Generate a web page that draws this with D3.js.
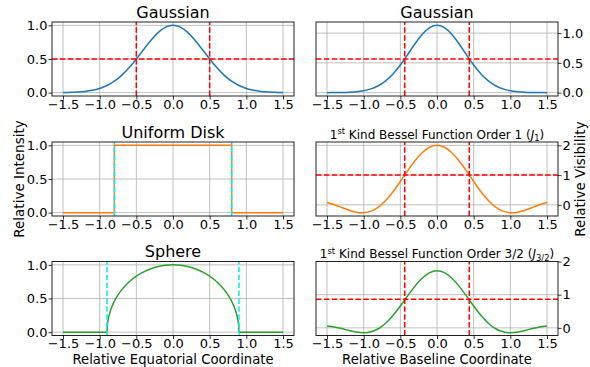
<!DOCTYPE html>
<html>
<head>
<meta charset="utf-8">
<script src="https://cdn.jsdelivr.net/npm/d3@7"></script>
<style>
body { margin: 0; background: #fff; }
svg { font-family: "DejaVu Sans", sans-serif; }
</style>
</head>
<body>
<div id="chart"></div>
<script>
// sample grid shared by the smooth curves
var xGrid = [-1.5, -1.4, -1.3, -1.2, -1.1, -1.0, -0.9, -0.8, -0.7, -0.6, -0.5, -0.4, -0.3, -0.2, -0.1, 0,
             0.1, 0.2, 0.3, 0.4, 0.5, 0.6, 0.7, 0.8, 0.9, 1.0, 1.1, 1.2, 1.3, 1.4, 1.5];

var gaussIntensity = [0.0020, 0.0044, 0.0092, 0.0185, 0.0349, 0.0625, 0.1058, 0.1696, 0.2570, 0.3686, 0.5000,
                      0.6417, 0.7792, 0.8950, 0.9727, 1.0000, 0.9727, 0.8950, 0.7792, 0.6417, 0.5000, 0.3686,
                      0.2570, 0.1696, 0.1058, 0.0625, 0.0349, 0.0185, 0.0092, 0.0044, 0.0020];

var gaussVisibility = [0.0004, 0.0011, 0.0028, 0.0067, 0.0152, 0.0321, 0.0632, 0.1157, 0.1974, 0.3137, 0.4641,
                       0.6393, 0.8203, 0.9800, 1.0905, 1.1300, 1.0905, 0.9800, 0.8203, 0.6393, 0.4641, 0.3137,
                       0.1974, 0.1157, 0.0632, 0.0321, 0.0152, 0.0067, 0.0028, 0.0011, 0.0004];

var besselJ1 = [0.077, 0.004, -0.088, -0.179, -0.246, -0.263, -0.210, -0.074, 0.147, 0.442, 0.786,
                1.146, 1.483, 1.759, 1.937, 2.000, 1.937, 1.759, 1.483, 1.146, 0.786, 0.442,
                0.147, -0.074, -0.210, -0.263, -0.246, -0.179, -0.088, 0.004, 0.077];

var besselJ32 = [0.055, 0.026, -0.022, -0.078, -0.127, -0.148, -0.120, -0.027, 0.139, 0.372, 0.657,
                 0.964, 1.258, 1.502, 1.664, 1.720, 1.664, 1.502, 1.258, 0.964, 0.657, 0.372,
                 0.139, -0.027, -0.120, -0.148, -0.127, -0.078, -0.022, 0.026, 0.055];

// uniform disk profile (sharp edges at +-0.8)
var diskX = [-1.5, -0.8, -0.8, 0.8, 0.8, 1.5];
var diskY = [0, 0, 1, 1, 0, 0];

// sphere (limb) profile, radius 0.9
var sphereX = [-1.5, -0.9, -0.895, -0.89, -0.88, -0.86, -0.83, -0.8, -0.75, -0.7, -0.6, -0.5, -0.4, -0.3, -0.2, -0.1, 0,
               0.1, 0.2, 0.3, 0.4, 0.5, 0.6, 0.7, 0.75, 0.8, 0.83, 0.86, 0.88, 0.89, 0.895, 0.9, 1.5];
var sphereY = [0, 0, 0.1052, 0.1487, 0.2098, 0.2948, 0.3867, 0.4581, 0.5528, 0.6286, 0.7454, 0.8315, 0.8958, 0.9428, 0.9750, 0.9938, 1,
               0.9938, 0.9750, 0.9428, 0.8958, 0.8315, 0.7454, 0.6286, 0.5528, 0.4581, 0.3867, 0.2948, 0.2098, 0.1487, 0.1052, 0, 0];

var xTicks = [-1.5, -1.0, -0.5, 0, 0.5, 1.0, 1.5];
var unitTicks = [0, 0.5, 1.0];
var intTicks = [0, 1, 2];

// half-maximum markers
var gaussHalfX = [-0.5, 0.5], gaussHalfY = [0.5];
var visHalfX = [-0.44, 0.44];
var gaussVisHalfY = [0.565], j1HalfY = [1.0], j32HalfY = [0.86];
var diskEdges = [-0.8, 0.8], sphereEdges = [-0.9, 0.9];

var width = 590, height = 367;
var colX = [52, 316], panelW = 242, rowY = [22, 142, 261.5], panelH = 74;

var svg = d3.select("#chart").append("svg")
    .attr("width", width)
    .attr("height", height);

function zip(xs, ys) {
  return xs.map(function(d, i) { return [d, ys[i]]; });
}

var panels = [
  {col: 0, row: 0, title: [["Gaussian"]], big: true, yDomain: [-0.05, 1.05], yTicks: unitTicks, fmt: ".1f",
   series: [{pts: zip(xGrid, gaussIntensity), color: "#1f77b4", curve: d3.curveNatural}],
   vlines: gaussHalfX, vcolor: "red", hlines: gaussHalfY},
  {col: 1, row: 0, title: [["Gaussian"]], big: true, yDomain: [-0.056, 1.186], yTicks: unitTicks, fmt: ".1f",
   series: [{pts: zip(xGrid, gaussVisibility), color: "#1f77b4", curve: d3.curveNatural}],
   vlines: visHalfX, vcolor: "red", hlines: gaussVisHalfY},
  {col: 0, row: 1, title: [["Uniform Disk"]], big: true, yDomain: [-0.05, 1.05], yTicks: unitTicks, fmt: ".1f",
   series: [{pts: zip(diskX, diskY), color: "#ff7f0e", curve: d3.curveLinear}],
   vlines: diskEdges, vcolor: "#00f0f0", hlines: []},
  {col: 1, row: 1, title: [["1"], ["st", "sup"], [" Kind Bessel Function Order 1 ("], ["J", "it"], ["1", "sub"], [")", "back"]],
   big: false, yDomain: [-0.375, 2.113], yTicks: intTicks, fmt: "d",
   series: [{pts: zip(xGrid, besselJ1), color: "#ff7f0e", curve: d3.curveNatural}],
   vlines: visHalfX, vcolor: "red", hlines: j1HalfY},
  {col: 0, row: 2, title: [["Sphere"]], big: true, yDomain: [-0.05, 1.05], yTicks: unitTicks, fmt: ".1f",
   series: [{pts: zip(sphereX, sphereY), color: "#2ca02c", curve: d3.curveMonotoneX}],
   vlines: sphereEdges, vcolor: "#00f0f0", hlines: []},
  {col: 1, row: 2, title: [["1"], ["st", "sup"], [" Kind Bessel Function Order 3/2 ("], ["J", "it"], ["3/2", "sub"], [")", "back"]],
   big: false, yDomain: [-0.23, 2.0], yTicks: intTicks, fmt: "d",
   series: [{pts: zip(xGrid, besselJ32), color: "#2ca02c", curve: d3.curveNatural}],
   vlines: visHalfX, vcolor: "red", hlines: j32HalfY}
];

panels.forEach(drawPanel);

function drawPanel(p) {
  var x0 = colX[p.col], y0 = rowY[p.row];
  var x = d3.scaleLinear().domain([-1.65, 1.65]).range([x0, x0 + panelW]);
  var y = d3.scaleLinear().domain(p.yDomain).range([y0 + panelH, y0]);
  var clipId = "clip-" + p.row + "-" + p.col;

  svg.append("clipPath").attr("id", clipId)
    .append("rect").attr("x", x0).attr("y", y0).attr("width", panelW).attr("height", panelH);

  var g = svg.append("g");
  var plot = g.append("g").attr("clip-path", "url(#" + clipId + ")");

  // grid
  plot.selectAll(".gx").data(xTicks).enter().append("line")
      .attr("x1", function(d) { return x(d); }).attr("x2", function(d) { return x(d); })
      .attr("y1", y0).attr("y2", y0 + panelH)
      .attr("stroke", "#b0b0b0").attr("stroke-width", 0.8);
  plot.selectAll(".gy").data(p.yTicks).enter().append("line")
      .attr("y1", function(d) { return y(d); }).attr("y2", function(d) { return y(d); })
      .attr("x1", x0).attr("x2", x0 + panelW)
      .attr("stroke", "#b0b0b0").attr("stroke-width", 0.8);

  // curves
  p.series.forEach(function(s) {
    var line = d3.line()
        .x(function(d) { return x(d[0]); })
        .y(function(d) { return y(d[1]); })
        .curve(s.curve);
    plot.append("path").datum(s.pts)
        .attr("d", line)
        .attr("fill", "none")
        .attr("stroke", s.color)
        .attr("stroke-width", 1.5);
  });

  // dashed markers
  plot.selectAll(".vl").data(p.vlines).enter().append("line")
      .attr("x1", function(d) { return x(d); }).attr("x2", function(d) { return x(d); })
      .attr("y1", y0 + panelH).attr("y2", y0)
      .attr("stroke", p.vcolor).attr("stroke-width", 1.5)
      .attr("stroke-dasharray", "5.5,2.4");
  plot.selectAll(".hl").data(p.hlines).enter().append("line")
      .attr("y1", function(d) { return y(d); }).attr("y2", function(d) { return y(d); })
      .attr("x1", x0).attr("x2", x0 + panelW)
      .attr("stroke", "red").attr("stroke-width", 1.5)
      .attr("stroke-dasharray", "5.5,2.4");

  // frame
  g.append("rect")
      .attr("x", x0).attr("y", y0).attr("width", panelW).attr("height", panelH)
      .attr("fill", "none").attr("stroke", "#222").attr("stroke-width", 1);

  // axes
  var xAxis = d3.axisBottom(x).tickValues(xTicks).tickSize(3.5).tickPadding(0)
      .tickFormat(d3.format(".1f"));
  var yAxis = (p.col === 0 ? d3.axisLeft(y) : d3.axisRight(y))
      .tickValues(p.yTicks).tickSize(3.5).tickPadding(1)
      .tickFormat(d3.format(p.fmt));

  var gx = g.append("g").attr("transform", "translate(0," + (y0 + panelH) + ")").call(xAxis);
  var gy = g.append("g").attr("transform", "translate(" + (p.col === 0 ? x0 : x0 + panelW) + ",0)").call(yAxis);
  [gx, gy].forEach(function(a) {
    a.attr("font-family", null).attr("font-size", null);
    a.select(".domain").remove();
    a.selectAll(".tick line").attr("stroke", "#000").attr("stroke-width", 0.8);
    a.selectAll(".tick text").attr("fill", "#000").style("font-size", "13px");
  });

  // title
  var cx = x0 + panelW / 2;
  var t = g.append("text")
      .attr("x", cx)
      .attr("y", p.big ? y0 - 4.5 : y0 - 3.5)
      .attr("text-anchor", "middle")
      .style("font-size", p.big ? "16px" : "12px");
  var shift = 0;
  p.title.forEach(function(part) {
    var ts = t.append("tspan").text(part[0]);
    var kind = part[1];
    if (kind === "sup") { ts.style("font-size", "8.4px").attr("dy", -4.5); shift = -4.5; }
    else if (kind === "sub") { ts.style("font-size", "8.4px").attr("dy", 2.5); shift = 2.5; }
    else if (kind === "it") { ts.style("font-style", "italic"); }
    else if (shift !== 0) { ts.attr("dy", -shift); shift = 0; }
  });
}

// axis labels
svg.append("text")
    .attr("transform", "translate(19," + (rowY[1] + panelH / 2) + ") rotate(-90)")
    .attr("text-anchor", "middle").attr("dy", "0.35em")
    .style("font-size", "13.5px")
    .text("Relative Intensity");

svg.append("text")
    .attr("transform", "translate(580," + (rowY[1] + panelH / 2) + ") rotate(-90)")
    .attr("text-anchor", "middle").attr("dy", "0.35em")
    .style("font-size", "13.5px")
    .text("Relative Visibility");

svg.append("text")
    .attr("x", colX[0] + panelW / 2).attr("y", 363.5)
    .attr("text-anchor", "middle")
    .style("font-size", "13.2px")
    .text("Relative Equatorial Coordinate");

svg.append("text")
    .attr("x", colX[1] + panelW / 2).attr("y", 363.5)
    .attr("text-anchor", "middle")
    .style("font-size", "13.2px")
    .text("Relative Baseline Coordinate");
</script>
</body>
</html>
